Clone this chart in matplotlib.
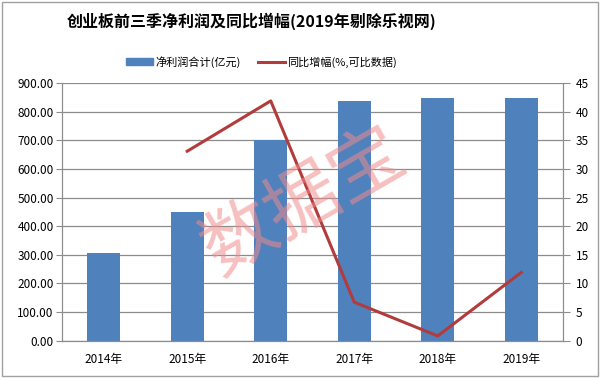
import matplotlib
matplotlib.use('agg')
import matplotlib.pyplot as plt
from matplotlib.patches import Rectangle
from matplotlib.lines import Line2D
import numpy as np

plt.rcParams['font.family'] = ['Noto Sans CJK SC', 'DejaVu Sans']

years = ['2014年', '2015年', '2016年', '2017年', '2018年', '2019年']
profit = [306, 450, 700, 836, 847, 847]
growth_years = ['2015年', '2016年', '2017年', '2018年', '2019年']
growth = [33.1, 41.9, 6.7, 0.8, 11.9]

bar_color = '#4F81BD'
line_color = '#B23C3C'
grid_color = '#8C8C8C'

fig = plt.figure(figsize=(6, 3.78), dpi=100)
ax = fig.add_axes([0.1033, 0.0992, 0.8350, 0.6808])

x = np.arange(len(years))
ax.bar(x, profit, width=0.4, color=bar_color, zorder=2)
ax.set_xlim(-0.5, len(years) - 0.5)
ax.set_ylim(0, 900)
ax.set_yticks(np.arange(0, 901, 100))
ax.set_yticklabels([f'{v:.2f}' for v in np.arange(0, 901, 100)])
ax.set_xticks(x)
ax.set_xticklabels(years)
ax.yaxis.grid(True, color=grid_color, linewidth=0.9, zorder=0)
ax.set_axisbelow(True)
for s in ['left', 'right', 'bottom']:
    ax.spines[s].set_color(grid_color)
ax.spines['top'].set_visible(False)
ax.tick_params(axis='y', length=4, color=grid_color, labelsize=8.5, pad=2)
ax.tick_params(axis='x', length=0, labelsize=8.5, pad=9)

ax2 = ax.twinx()
gx = [years.index(y) for y in growth_years]
ax2.plot(gx, growth, color=line_color, linewidth=2.2, zorder=3)
ax2.set_ylim(0, 45)
ax2.set_yticks(np.arange(0, 46, 5))
ax2.tick_params(axis='y', length=5, color=grid_color, labelsize=8.5, pad=4)
for s in ['left', 'right', 'bottom']:
    ax2.spines[s].set_color(grid_color)
ax2.spines['top'].set_visible(False)

# watermark
fig.text(0.507, 0.462, '数据宝', fontsize=53, color='#F08C8C', alpha=0.55,
         rotation=30, ha='center', va='center', zorder=10)

# title
fig.text(0.42, 0.945, '创业板前三季净利润及同比增幅(2019年剔除乐视网)',
         fontsize=11.5, fontweight='bold', ha='center', va='center')

# legend
handles = [Rectangle((0, 0), 1, 1, color=bar_color),
           Line2D([0], [0], color=line_color, linewidth=2.2)]
fig.legend(handles, ['净利润合计(亿元)', '同比增幅(%,可比数据)'],
           loc='center', bbox_to_anchor=(0.436, 0.837), ncol=2, frameon=False,
           fontsize=8, handlelength=2.4, handleheight=0.6, columnspacing=1.6,
           handletextpad=0.2)

# outer frame
fig.patches.append(Rectangle((0.004, 0.006), 0.992, 0.988, transform=fig.transFigure,
                             fill=False, edgecolor='#A0A0A0', linewidth=1.0))

fig.savefig('out.png', dpi=100, facecolor='white')
